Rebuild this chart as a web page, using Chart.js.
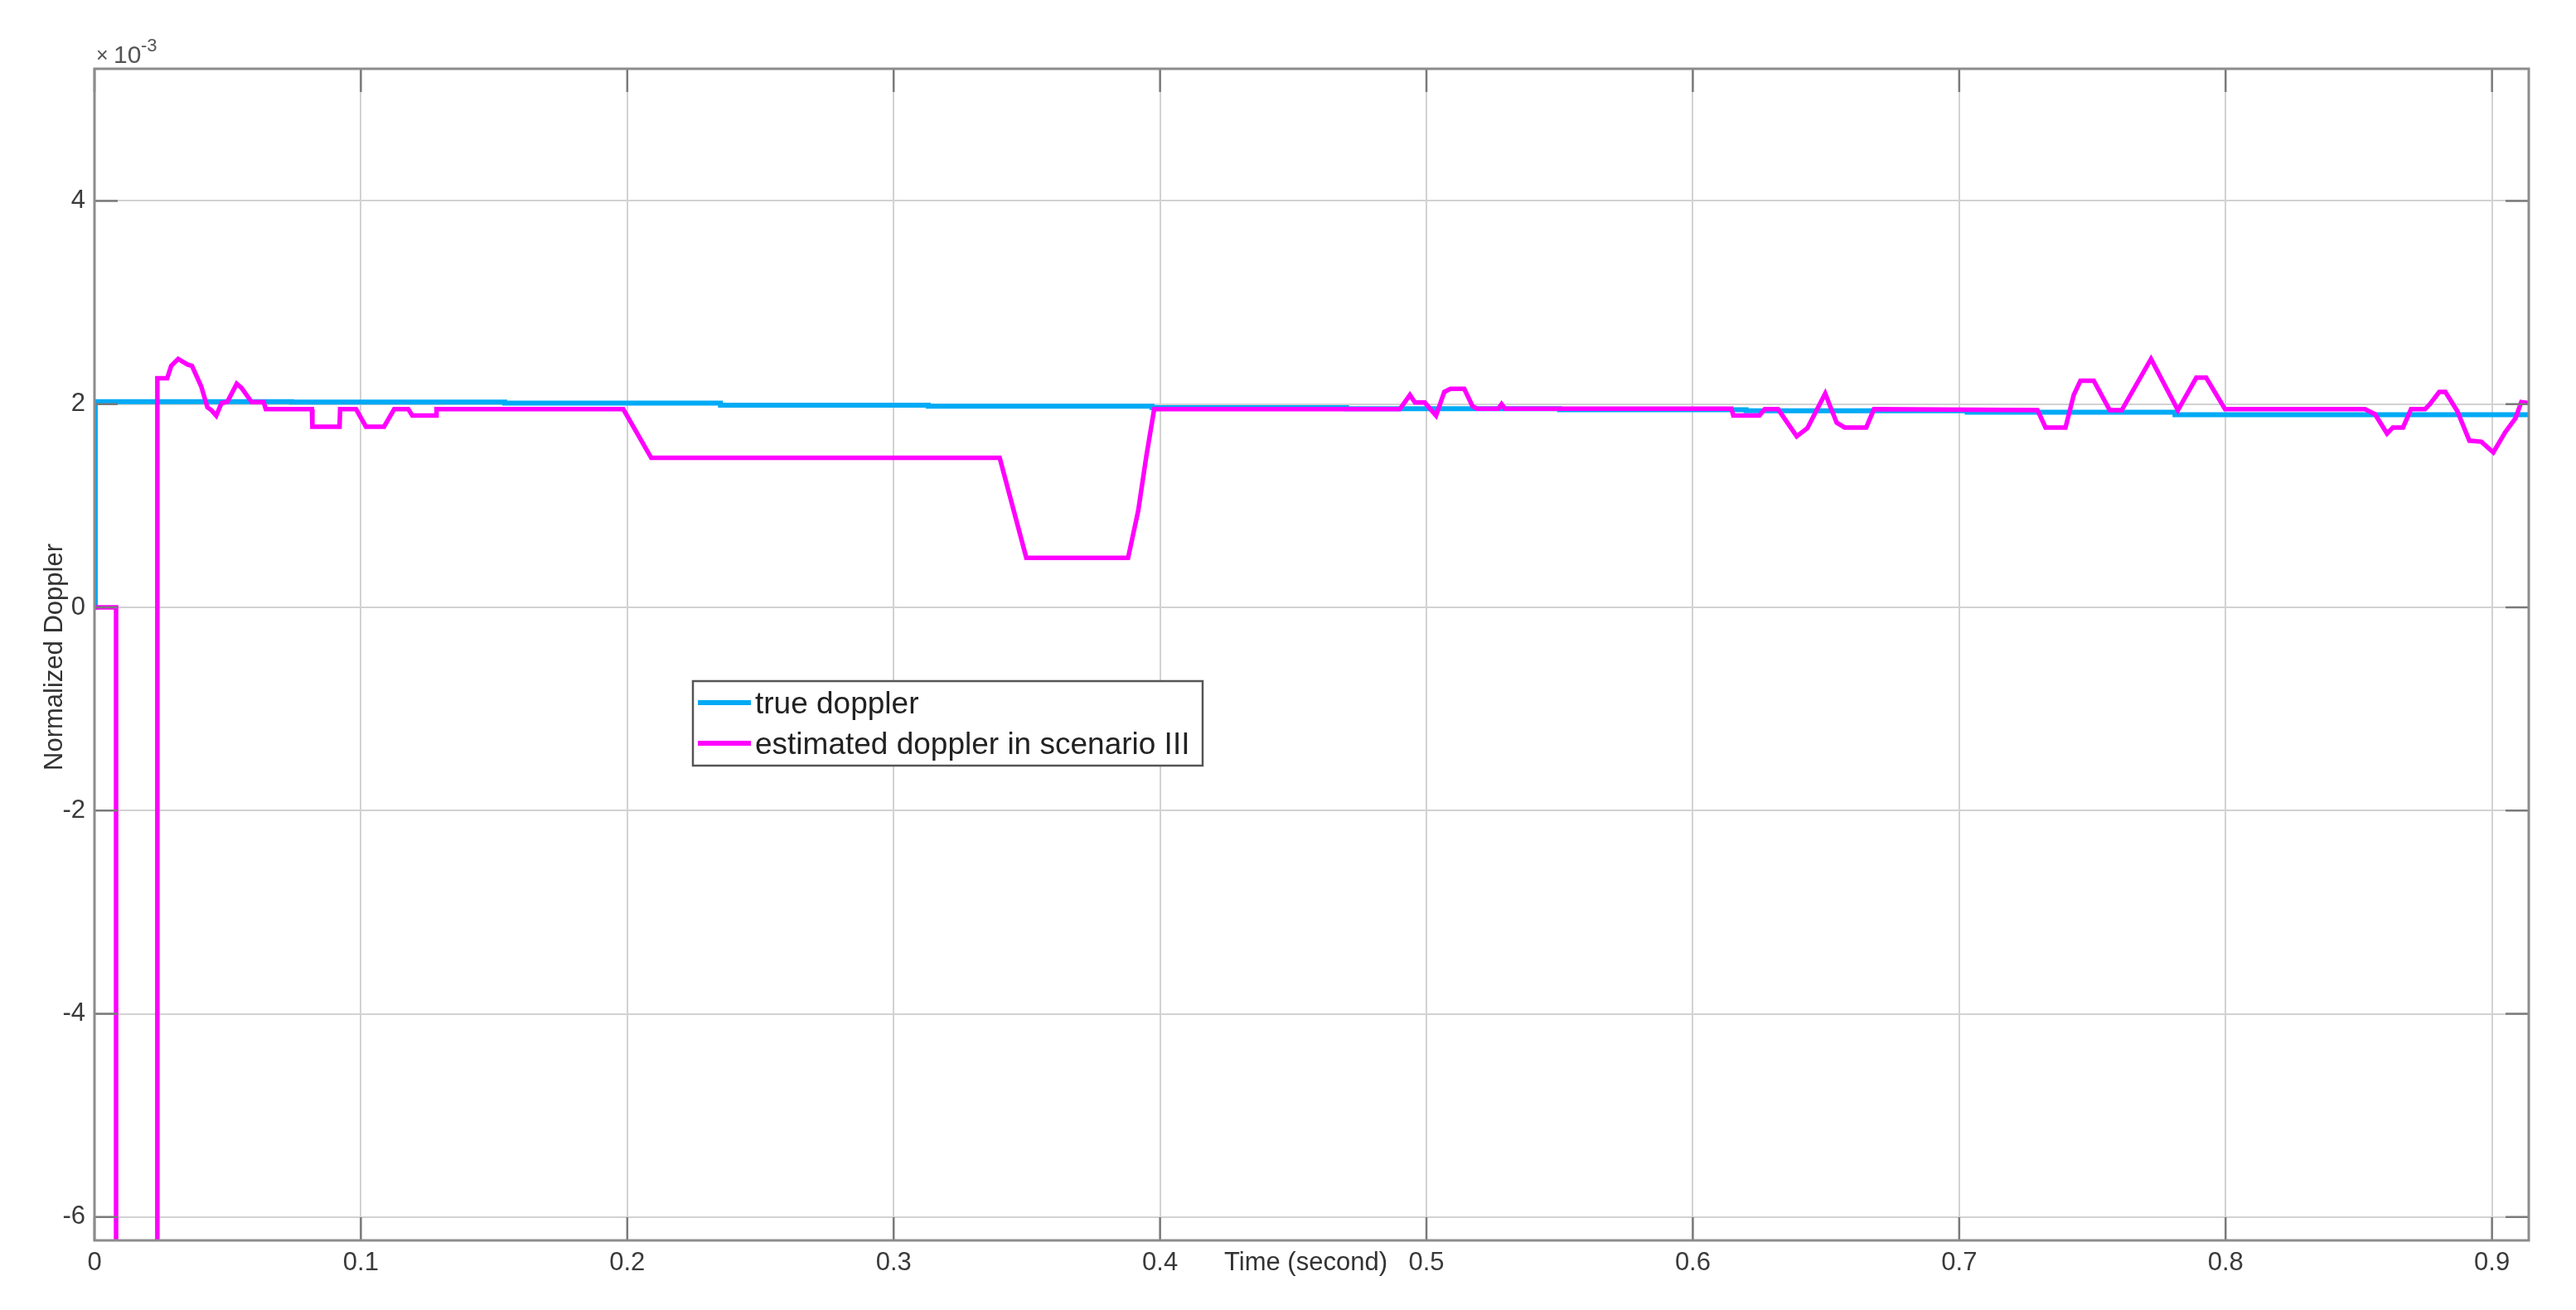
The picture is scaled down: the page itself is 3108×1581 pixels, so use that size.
<!DOCTYPE html>
<html>
<head>
<meta charset="utf-8">
<title>Normalized Doppler</title>
<script src="https://cdn.jsdelivr.net/npm/chart.js@4.4.1/dist/chart.umd.min.js"></script>
<style>
  html, body { margin: 0; padding: 0; background: #fff; }
  canvas { display: block; }
</style>
</head>
<body>
<canvas id="doppler" width="3108" height="1581"></canvas>
<script>
// valeurs (unité : 1e-3)
const xTicks = [0, 0.1, 0.2, 0.3, 0.4, 0.5, 0.6, 0.7, 0.8, 0.9];
const yTicks = [-6, -4, -2, 0, 2, 4];

const trueTime = [0, 0.0003, 0.074, 0.154, 0.235, 0.313, 0.397, 0.47, 0.55, 0.62, 0.703, 0.781, 0.9138];
const trueDoppler = [0, 2.025, 2.02, 2.01, 1.99, 1.98, 1.965, 1.955, 1.945, 1.935, 1.92, 1.895, 1.885];

const estTime = [
  0, 0.0081, 0.0081, 0.0236, 0.0236, 0.0273, 0.0288, 0.0314, 0.0349, 0.0366,
  0.0401, 0.0424, 0.0439, 0.0457, 0.0477, 0.0499, 0.0534, 0.0552, 0.059, 0.0635,
  0.0643, 0.0816, 0.0818, 0.0920, 0.0922, 0.0982, 0.1019, 0.1087, 0.1125, 0.1178,
  0.1193, 0.1282, 0.1284, 0.1985, 0.209, 0.3398, 0.3498, 0.388, 0.3918, 0.3948,
  0.3978, 0.490, 0.4938, 0.4957, 0.4994, 0.5036, 0.5067, 0.509, 0.5142, 0.5173,
  0.5190, 0.5270, 0.5282, 0.5295, 0.6145, 0.6152, 0.625, 0.627, 0.632, 0.639,
  0.643, 0.6497, 0.654, 0.657, 0.6651, 0.668, 0.7294, 0.7324, 0.7399, 0.743,
  0.7455, 0.7505, 0.7565, 0.7610, 0.772, 0.7821, 0.789, 0.7927, 0.7998, 0.8523,
  0.8561, 0.8606, 0.8628, 0.8666, 0.8696, 0.8749, 0.8767, 0.8802, 0.8825, 0.8870,
  0.8915, 0.896, 0.9005, 0.905, 0.9088, 0.911, 0.9138
];
const estDoppler = [
  0, 0, -9, -9, 2.254, 2.254, 2.376, 2.444, 2.39, 2.376,
  2.172, 1.968, 1.94, 1.887, 2.01, 2.023, 2.2, 2.16, 2.02, 2.02,
  1.95, 1.95, 1.778, 1.778, 1.95, 1.95, 1.778, 1.778, 1.95, 1.95,
  1.887, 1.887, 1.95, 1.95, 1.471, 1.471, 0.487, 0.487, 0.949, 1.479,
  1.95, 1.95, 2.09, 2.015, 2.015, 1.887, 2.12, 2.15, 2.15, 1.98,
  1.955, 1.955, 2.0, 1.955, 1.955, 1.887, 1.887, 1.95, 1.95, 1.683,
  1.764, 2.104, 1.817, 1.77, 1.77, 1.95, 1.94, 1.77, 1.77, 2.09,
  2.23, 2.23, 1.94, 1.94, 2.444, 1.94, 2.26, 2.26, 1.95, 1.95,
  1.9, 1.71, 1.77, 1.77, 1.95, 1.95, 2.0, 2.12, 2.12, 1.93,
  1.64, 1.63, 1.525, 1.725, 1.86, 2.02, 2.01
];

const FONT = "'Liberation Sans', Arial, Helvetica, sans-serif";

function toPoints(xs, ys) {
  return xs.map((x, i) => ({ x, y: ys[i] }));
}

// cadre, graduations intérieures, titres et légende façon MATLAB
const matlabFrame = {
  id: 'matlabFrame',
  beforeDraw(chart) {
    const ctx = chart.ctx;
    ctx.save();
    ctx.fillStyle = '#ffffff';
    ctx.fillRect(0, 0, chart.width, chart.height);
    ctx.restore();
  },
  afterDraw(chart) {
    const ctx = chart.ctx;
    const a = chart.chartArea;
    const xs = chart.scales.x, ys = chart.scales.y;
    const tick = 28;
    ctx.save();

    ctx.strokeStyle = '#7a7a7a';
    ctx.lineWidth = 2.5;
    ctx.beginPath();
    xTicks.forEach(v => {
      const px = xs.getPixelForValue(v);
      ctx.moveTo(px, a.bottom); ctx.lineTo(px, a.bottom - tick);
      ctx.moveTo(px, a.top); ctx.lineTo(px, a.top + tick);
    });
    yTicks.forEach(v => {
      const py = ys.getPixelForValue(v);
      ctx.moveTo(a.left, py); ctx.lineTo(a.left + tick, py);
      ctx.moveTo(a.right, py); ctx.lineTo(a.right - tick, py);
    });
    ctx.stroke();

    ctx.strokeStyle = '#8c8c8c';
    ctx.lineWidth = 3;
    ctx.strokeRect(a.left, a.top, a.right - a.left, a.bottom - a.top);

    // multiplicateur
    ctx.fillStyle = '#555555';
    ctx.textBaseline = 'alphabetic';
    ctx.textAlign = 'left';
    ctx.font = '25px ' + FONT;
    ctx.fillText('\u00d7', 116, 75);
    ctx.font = '30px ' + FONT;
    ctx.fillText('10', 137, 76);
    ctx.font = '22px ' + FONT;
    ctx.fillText('-3', 170, 62);

    // titres des axes
    ctx.fillStyle = '#333333';
    ctx.font = '31px ' + FONT;
    ctx.fillText('Time (second)', 1477, 1533);

    ctx.save();
    ctx.translate(66, (a.top + a.bottom) / 2 + 3);
    ctx.rotate(-Math.PI / 2);
    ctx.textAlign = 'center';
    ctx.textBaseline = 'middle';
    ctx.fillText('Normalized Doppler', 0, 0);
    ctx.restore();

    // légende
    const box = { x: 836, y: 822, w: 615, h: 102 };
    ctx.fillStyle = '#ffffff';
    ctx.fillRect(box.x, box.y, box.w, box.h);
    ctx.strokeStyle = '#555555';
    ctx.lineWidth = 2.5;
    ctx.strokeRect(box.x, box.y, box.w, box.h);
    const rows = [848, 897];
    chart.data.datasets.forEach((ds, i) => {
      ctx.strokeStyle = ds.borderColor;
      ctx.lineWidth = 6;
      ctx.beginPath();
      ctx.moveTo(842, rows[i]);
      ctx.lineTo(906, rows[i]);
      ctx.stroke();
      ctx.fillStyle = '#222222';
      ctx.font = '37px ' + FONT;
      ctx.textAlign = 'left';
      ctx.textBaseline = 'alphabetic';
      ctx.fillText(ds.label, 911, rows[i] + 13);
    });

    ctx.restore();
  }
};

new Chart(document.getElementById('doppler'), {
  type: 'line',
  data: {
    datasets: [
      {
        label: 'true doppler',
        data: toPoints(trueTime, trueDoppler),
        borderColor: '#00aaf5',
        borderWidth: 6,
        stepped: 'before',
        pointRadius: 0,
        clip: 0,
        order: 1
      },
      {
        label: 'estimated doppler in scenario III',
        data: toPoints(estTime, estDoppler),
        borderColor: '#ff00ff',
        borderWidth: 5.5,
        tension: 0,
        pointRadius: 0,
        clip: 0,
        order: 0
      }
    ]
  },
  options: {
    responsive: false,
    animation: false,
    events: [],
    layout: { padding: { top: 83, right: 57, bottom: 0, left: 0 } },
    plugins: { legend: { display: false }, tooltip: { enabled: false } },
    scales: {
      x: {
        type: 'linear',
        min: 0,
        max: 0.9138,
        afterBuildTicks: s => { s.ticks = xTicks.map(v => ({ value: v })); },
        afterFit: s => { s.height = 84; },
        grid: { color: '#d2d2d2', lineWidth: 2, drawTicks: false },
        border: { display: false },
        ticks: {
          padding: 9,
          color: '#3a3a3a',
          font: { family: FONT, size: 31 },
          maxRotation: 0,
          autoSkip: false,
          callback: v => (v === 0 ? '0' : v.toFixed(1))
        }
      },
      y: {
        type: 'linear',
        min: -6.23,
        max: 5.3,
        afterBuildTicks: s => { s.ticks = yTicks.map(v => ({ value: v })); },
        afterFit: s => { s.width = 114; },
        grid: { color: '#d2d2d2', lineWidth: 2, drawTicks: false },
        border: { display: false },
        ticks: {
          padding: 11,
          color: '#3a3a3a',
          font: { family: FONT, size: 31 },
          autoSkip: false,
          callback: v => String(v)
        }
      }
    }
  },
  plugins: [matlabFrame]
});
</script>
</body>
</html>
